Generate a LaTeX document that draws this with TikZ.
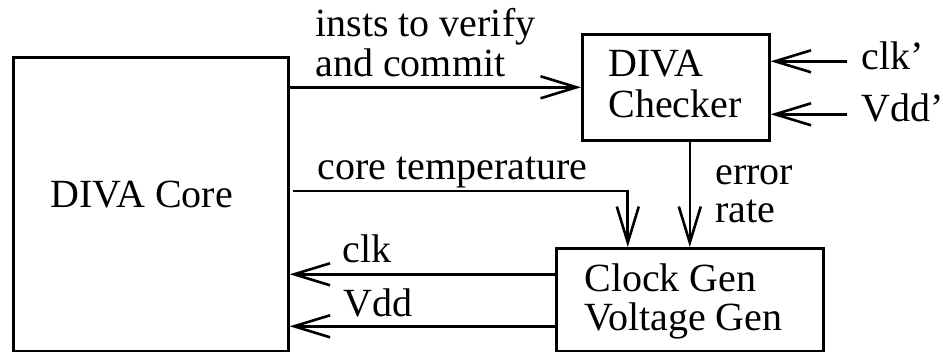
\documentclass[tikz,border=0pt]{standalone}
\usepackage{fontspec}
\setmainfont{Liberation Serif}
\usetikzlibrary{arrows.meta,calc}

\tikzset{
  every picture/.style={x=0.5pt,y=-0.5pt},
  blk/.style={draw,line width=1.3pt,inner sep=0pt,anchor=north west},
  lbl/.style={inner sep=0pt,anchor=base west,font=\fontsize{20}{23}\selectfont},
  arr/.style={line width=1.3pt,-{Straight Barb[length=18pt,width=11pt,line width=1.3pt]}},
}

\begin{document}
\begin{tikzpicture}
\useasboundingbox (0,0) rectangle (943,352);

% blocks
\node[blk,minimum width=137.5pt,minimum height=147pt] (core) at (12,56) {};
\node[blk,minimum width=93.5pt,minimum height=53pt] (chk) at (581,33) {};
\node[blk,minimum width=133.5pt,minimum height=51.5pt] (gen) at (555,247) {};

% block texts
\node[lbl] (coretxt) at (50,208) {DIVA Core};
\node[lbl] (chk1) at (608,77) {DIVA};
\node[lbl] (chk2) at (608,118) {Checker};
\node[lbl] (gen1) at (584,292) {Clock Gen};
\node[lbl] (gen2) at (584,331) {Voltage Gen};

% signal labels
\node[lbl] (insts1) at (315,37) {insts to verify};
\node[lbl] (insts2) at (315,77) {and commit};
\node[lbl] (temp) at (317,180) {core temperature};
\node[lbl] (clk) at (342,263) {clk};
\node[lbl] (vdd) at (343,317) {Vdd};
\node[lbl] (err1) at (715,185) {error};
\node[lbl] (err2) at (715,223) {rate};
\node[lbl] (clkp) at (861,70) {clk’};
\node[lbl] (vddp) at (861,122) {Vdd’};

% connector end points
\coordinate (tstart) at (293,191);
\coordinate (clkout) at ($(gen.west)+(0,-25.5)$);
\coordinate (vddout) at ($(gen.west)+(0,26.5)$);
\coordinate (clkin) at ($(chk.east)+(0,-26)$);
\coordinate (vddin) at ($(chk.east)+(0,27)$);

\draw[arr] (core.east |- chk.west) -- (chk.west);
\draw[arr] (tstart) -| ($(gen.north west)!0.27!(gen.north east)$);
\draw[arr] (gen.north |- chk.south) -- (gen.north);
\draw[arr] (clkout) -- (core.east |- clkout);
\draw[arr] (vddout) -- (core.east |- vddout);
\draw[arr] ($(clkp.west |- clkin)+(-14,0)$) -- (clkin);
\draw[arr] ($(vddp.west |- vddin)+(-14,0)$) -- (vddin);
\end{tikzpicture}
\end{document}
